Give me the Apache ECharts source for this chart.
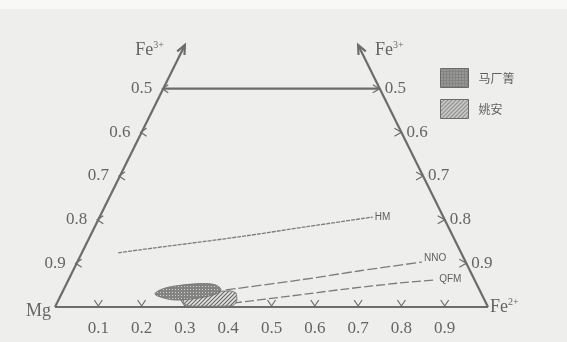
<!DOCTYPE html>
<html>
<head>
<meta charset="utf-8">
<script src="https://cdn.jsdelivr.net/npm/echarts@6/dist/echarts.min.js"></script>
<style>
  html, body { margin: 0; padding: 0; background: #eeeeec; }
  #chart { width: 567px; height: 342px; }
</style>
</head>
<body>
<div id="chart"></div>
<script>
// every point is [Fe2+, Fe3+]; Mg is the rest
const baseTicks = [0.1, 0.2, 0.3, 0.4, 0.5, 0.6, 0.7, 0.8, 0.9];
const sideTicks = [0.5, 0.6, 0.7, 0.8, 0.9];
const cutLevel = 0.5;    // triangle is cut at Fe3+ = 0.5
const arrowLevel = 0.6;  // arrow tips

const hmLine = [[0.084, 0.124], [0.131, 0.131], [0.347, 0.161], [0.490, 0.184], [0.631, 0.206]];
const nnoLine = [[0.375, 0.039], [0.535, 0.062], [0.663, 0.083], [0.796, 0.103]];
const qfmLine = [[0.407, 0.009], [0.530, 0.025], [0.649, 0.041], [0.769, 0.055], [0.847, 0.062]];

const machangqing = [
  [0.216, 0.030], [0.227, 0.041], [0.253, 0.048], [0.297, 0.053], [0.332, 0.053], [0.352, 0.048],
  [0.364, 0.039], [0.357, 0.030], [0.335, 0.023], [0.303, 0.018], [0.269, 0.016], [0.239, 0.021]
];
const yaoan = [
  [0.285, 0.021], [0.319, 0.032], [0.386, 0.037], [0.402, 0.032], [0.412, 0.016],
  [0.411, 0.005], [0.398, 0.002], [0.311, 0.002], [0.295, 0.007]
];

const ink = '#6c6c6c';
const textInk = '#656565';
const serif = '"Liberation Serif", "DejaVu Serif", serif';

function toXY(p) {
  return [p[0] + p[1] / 2, p[1]];
}

function makePattern(kind) {
  const c = document.createElement('canvas');
  const g = c.getContext('2d');
  if (kind === 'dots') {
    c.width = 3; c.height = 3;
    g.fillStyle = '#838381';
    g.fillRect(0, 0, 3, 3);
    g.fillStyle = '#d0d0cd';
    g.fillRect(1, 1, 1, 1);
  } else {
    c.width = 4; c.height = 4;
    g.fillStyle = '#e2e2df';
    g.fillRect(0, 0, 4, 4);
    g.strokeStyle = '#6a6a6a';
    g.lineWidth = 1.2;
    g.beginPath();
    g.moveTo(-1, 5); g.lineTo(5, -1);
    g.moveTo(-1, 1); g.lineTo(1, -1);
    g.moveTo(3, 5); g.lineTo(5, 3);
    g.stroke();
  }
  return { image: c, repeat: 'repeat' };
}
const dotFill = makePattern('dots');
const hatchFill = makePattern('hatch');

// frame edges: from, to, arrow
const frameEdges = [
  [[0, 0], [1, 0], 0],
  [[0, 0], [0, arrowLevel], 1],
  [[1, 0], [1 - arrowLevel, arrowLevel], 1],
  [[0, cutLevel], [1 - cutLevel, cutLevel], 0]
];

// ticks: kind 0 = base (Fe2+), 1 = left side, 2 = right side
const tickData = []
  .concat(baseTicks.map(v => toXY([v, 0]).concat([0, v])))
  .concat(sideTicks.map(v => toXY([0, 1 - v]).concat([1, v])))
  .concat(sideTicks.map(v => toXY([v, 1 - v]).concat([2, v])));

const cornerNames = ['Mg', 'Fe{s|2+}', 'Fe{s|3+}', 'Fe{s|3+}'];
const cornerPoints = [[0, 0], [1, 0], [0, arrowLevel], [1 - arrowLevel, arrowLevel]];

const chart = echarts.init(document.getElementById('chart'));

function renderEdge(params, api) {
  const p1 = api.coord([api.value(0), api.value(1)]);
  const p2 = api.coord([api.value(2), api.value(3)]);
  const children = [{
    type: 'line',
    shape: { x1: p1[0], y1: p1[1], x2: p2[0], y2: p2[1] },
    style: { stroke: ink, lineWidth: 2.2 }
  }];
  if (api.value(4)) {
    const ang = Math.atan2(p2[1] - p1[1], p2[0] - p1[0]);
    const len = 10, a = 0.42;
    children.push({
      type: 'polyline',
      shape: { points: [
        [p2[0] - len * Math.cos(ang - a), p2[1] - len * Math.sin(ang - a)],
        [p2[0], p2[1]],
        [p2[0] - len * Math.cos(ang + a), p2[1] - len * Math.sin(ang + a)]
      ] },
      style: { stroke: ink, lineWidth: 2.2, fill: null }
    });
  }
  return { type: 'group', children };
}

function renderTick(params, api) {
  const p = api.coord([api.value(0), api.value(1)]);
  const kind = api.value(2);
  const txt = api.value(3).toFixed(1);
  let arms, label;
  if (kind === 0) {
    arms = [[p[0] - 4, p[1] - 7], [p[0], p[1] - 1], [p[0] + 4, p[1] - 7]];
    label = { x: p[0], y: p[1] + 22, align: 'center' };
  } else if (kind === 1) {
    arms = [[p[0] + 5, p[1] - 4], [p[0] - 1, p[1]], [p[0] + 5, p[1] + 4]];
    label = { x: p[0] - 11, y: p[1], align: 'right' };
  } else {
    arms = [[p[0] - 7, p[1] - 4], [p[0], p[1]], [p[0] - 7, p[1] + 4]];
    label = { x: p[0] + 5, y: p[1], align: 'left' };
  }
  return {
    type: 'group',
    children: [
      { type: 'polyline', shape: { points: arms }, style: { stroke: ink, lineWidth: 1.2, fill: null } },
      {
        type: 'text',
        x: label.x, y: label.y,
        style: {
          text: txt, fill: textInk, font: '17px ' + serif,
          align: label.align, verticalAlign: 'middle'
        }
      }
    ]
  };
}

const cornerOffsets = [[-4, 4, 'right'], [2, 0, 'left'], [-21, 5, 'right'], [17, 5, 'left']];

function renderCorner(params, api) {
  const p = api.coord([api.value(0), api.value(1)]);
  const i = params.dataIndex;
  const off = cornerOffsets[i];
  return {
    type: 'text',
    x: p[0] + off[0], y: p[1] + off[1],
    style: {
      text: cornerNames[i],
      fill: textInk,
      font: '18px ' + serif,
      align: off[2],
      verticalAlign: 'middle',
      rich: {
        s: { fontSize: 10, fontFamily: serif, fill: textInk, verticalAlign: 'top', padding: [0, 0, 9, 0] }
      }
    }
  };
}

function polygonRenderer(points, fill, smooth) {
  return function (params, api) {
    if (params.dataIndex !== 0) return;
    const pts = points.map(p => api.coord(toXY(p)));
    return {
      type: 'polygon',
      shape: { points: pts, smooth: smooth },
      style: { fill: fill, stroke: '#747474', lineWidth: 0.9 }
    };
  };
}

function bufferLine(name, pts, dash, offset) {
  return {
    name: name,
    type: 'line',
    data: pts.map(toXY),
    smooth: 0.3,
    symbol: 'none',
    lineStyle: { color: '#7c7c7c', width: 1.3, type: dash },
    endLabel: {
      show: true,
      formatter: name,
      color: '#5f5f5f',
      fontSize: 10,
      fontFamily: '"Liberation Sans", Arial, sans-serif',
      distance: 2,
      offset: offset
    },
    z: 3
  };
}

chart.setOption({
  backgroundColor: '#eeeeec',
  animation: false,
  grid: { left: 55, right: 79, top: 45, bottom: 35 },
  xAxis: { type: 'value', min: 0, max: 1, show: false },
  yAxis: { type: 'value', min: 0, max: arrowLevel, show: false },
  graphic: [{
    type: 'rect', left: 0, top: 0,
    shape: { width: 567, height: 9 },
    style: { fill: '#f8f8f7' }
  }],
  legend: {
    orient: 'vertical',
    left: 435,
    top: 63,
    itemWidth: 28,
    itemHeight: 19,
    itemGap: 11,
    icon: 'rect',
    selectedMode: false,
    data: ['马厂箐', '姚安'],
    itemStyle: { borderColor: '#6a6a6a', borderWidth: 1 },
    textStyle: {
      color: '#5f5f5f',
      fontSize: 12,
      fontFamily: '"Noto Sans CJK SC", sans-serif',
      padding: [0, 0, 0, 5]
    }
  },
  series: [
    {
      type: 'custom',
      renderItem: renderEdge,
      data: frameEdges.map(e => toXY(e[0]).concat(toXY(e[1]), [e[2]])),
      encode: { x: [0, 2], y: [1, 3] },
      silent: true,
      z: 2
    },
    {
      type: 'custom',
      renderItem: renderTick,
      data: tickData,
      encode: { x: 0, y: 1 },
      silent: true,
      z: 2
    },
    {
      type: 'custom',
      renderItem: renderCorner,
      data: cornerPoints.map(toXY),
      encode: { x: 0, y: 1 },
      silent: true,
      z: 2
    },
    bufferLine('HM', hmLine, [4, 1], [0, 0]),
    bufferLine('NNO', nnoLine, [10, 3], [0, -4]),
    bufferLine('QFM', qfmLine, [9, 3], [2, -1]),
    {
      name: '姚安',
      type: 'custom',
      renderItem: polygonRenderer(yaoan, hatchFill, 0.15),
      data: yaoan.map(toXY),
      encode: { x: 0, y: 1 },
      itemStyle: { color: hatchFill },
      z: 4
    },
    {
      name: '马厂箐',
      type: 'custom',
      renderItem: polygonRenderer(machangqing, dotFill, 0.35),
      data: machangqing.map(toXY),
      encode: { x: 0, y: 1 },
      itemStyle: { color: dotFill },
      z: 5
    }
  ]
});
</script>
</body>
</html>
